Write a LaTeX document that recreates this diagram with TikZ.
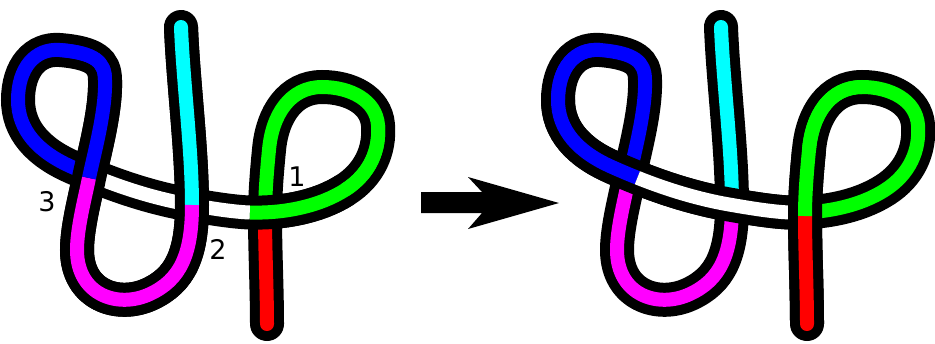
\documentclass[tikz,border=0pt]{standalone}
\usepackage{fontspec}
\setmainfont{DejaVu Sans}
\definecolor{cy}{RGB}{0,255,255}
\definecolor{mg}{RGB}{255,0,255}
\definecolor{bl}{RGB}{0,0,255}
\definecolor{gr}{RGB}{0,255,0}
\definecolor{rd}{RGB}{255,0,0}
% continuations of the centre line (start point written before them)
\def\sA{.. controls (183,80) and (192,150) .. (192,205)}
\def\sBa{.. controls (192,255) and (180,280) .. (150,294)}
\def\sBb{.. controls (118,309) and (77,295) .. (77,250)}
\def\sBc{.. controls (77,228) and (85,198) .. (89,178)}
\def\sCa{.. controls (95,150) and (106,110) .. (105,80)}
\def\sCb{.. controls (105,62) and (95,53) .. (60,50)}
\def\sCc{.. controls (35,48) and (18,68) .. (18,100)}
\def\sCd{.. controls (18,130) and (38,152) .. (72,167)}
\def\sDa{.. controls (80.36,170.74) and (88.82,174.33) .. (97.37,177.74)}
\def\sDb{.. controls (127.70,189.82) and (159.24,199.54) .. (192,205)}
\def\sDc{.. controls (215,209) and (235,212) .. (250,212.5)}
\def\sEa{.. controls (285,213.5) and (320,206) .. (345,190)}
\def\sEb{.. controls (370,174) and (380,150) .. (378,125)}
\def\sEc{.. controls (376,100) and (350,87) .. (322,87)}
\def\sEd{.. controls (290,87) and (272,115) .. (269,150)}
\def\sEe{.. controls (266,180) and (265,200) .. (265,216)}
\def\sF{.. controls (265,250) and (267,290) .. (267,324)}
\begin{document}
\begin{tikzpicture}[x=1pt,y=-1pt,
  outl/.style={line width=34pt, draw=black},
  core/.style={line width=14pt},
  endcap/.style={line cap=round},
  lbl/.style={font=\fontsize{27}{30}\selectfont, inner sep=0pt}]
\useasboundingbox (0,0) rectangle (935,343);
% ---------- left figure ----------
\begin{scope}
\draw[outl,endcap] (181,27) \sA\sBa\sBb\sBc\sCa\sCb\sCc\sCd\sDa\sDb\sDc\sEa\sEb\sEc\sEd\sEe\sF;
% under strands
\draw[core,draw=bl] (105,80) \sCb\sCc\sCd\sDa;
\draw[core,draw=white] (97.37,177.74) \sDb\sDc;
\draw[core,draw=rd,endcap] (265,216) \sF;
\draw[core,draw=gr] (345,190) \sEb\sEc\sEd\sEe;
% over strands
\draw[outl] (181,27) \sA\sBa\sBb\sBc\sCa;
\draw[outl] (250,212.5) \sEa;
\draw[core,draw=cy,endcap] (181,27) \sA;
\draw[core,draw=mg] (192,205) \sBa\sBb\sBc;
\draw[core,draw=bl] (89,178) \sCa\sCb;
\draw[core,draw=gr] (250,212.5) \sEa\sEb;
\node[lbl] (l1) at (297,177) {1};
\node[lbl] (l2) at (218,249) {2};
\node[lbl] (l3) at (47,202) {3};
\end{scope}
% ---------- arrow ----------
\fill[black] (421,192) -- (482,192) -- (468,177) -- (559,203) -- (468,229) -- (482,213) -- (421,213) -- cycle;
% ---------- right figure ----------
\begin{scope}[xshift=540pt]
\draw[outl,endcap] (181,27) \sA\sBa\sBb\sBc\sCa\sCb\sCc\sCd\sDa\sDb\sDc\sEa\sEb\sEc\sEd\sEe\sF;
% under strands
\draw[core,draw=cy,endcap] (181,27) \sA;
\draw[core,draw=mg] (192,205) \sBa\sBb\sBc;
\draw[core,draw=bl] (89,178) \sCa\sCb\sCc\sCd;
\draw[core,draw=gr] (250,212.5) \sEa\sEb\sEc\sEd;
% band over
\draw[outl] (18,100) \sCd\sDa\sDb\sDc;
\draw[core,draw=bl] (60,50) \sCc\sCd\sDa;
\draw[core,draw=white] (97.37,177.74) \sDb\sDc;
% vertical over
\draw[outl] (269,150) \sEe\sF;
\draw[core,draw=rd,endcap] (265,216) \sF;
\draw[core,draw=gr] (322,87) \sEd\sEe;
\end{scope}
\end{tikzpicture}
\end{document}
